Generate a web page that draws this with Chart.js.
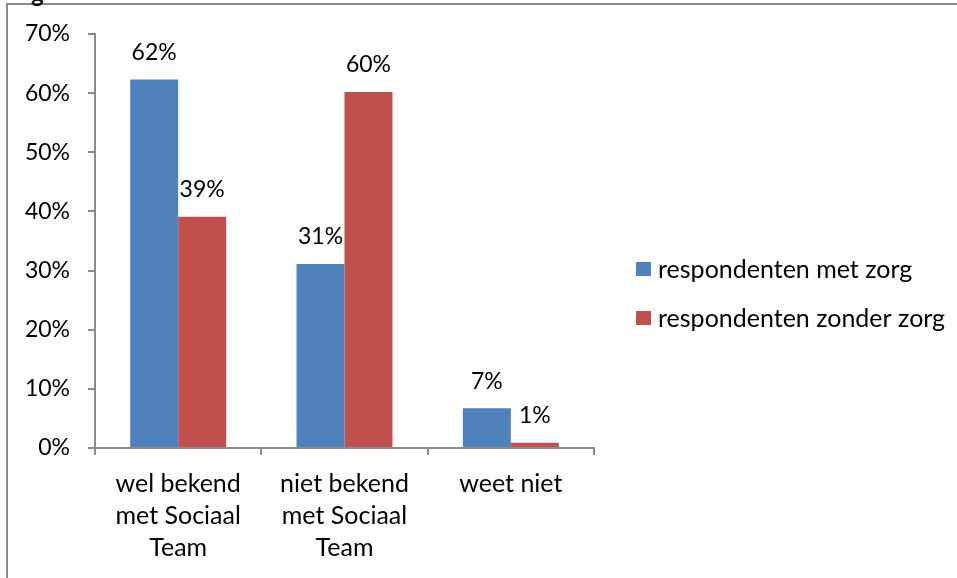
<!DOCTYPE html>
<html>
<head>
<meta charset="utf-8">
<script src="https://cdn.jsdelivr.net/npm/chart.js@4"></script>
<style>
  body { margin: 0; background: #fff; overflow: hidden; }
  #wrap { position: relative; width: 957px; height: 578px; }
  #frame { position: absolute; left: 6px; top: 3px; width: 1000px; height: 1000px;
           border-top: 2px solid #8a8a8a; border-left: 2px solid #8a8a8a; }
  #cut { position: absolute; left: 31px; top: -22px; font: bold 24px Lato, sans-serif; color: #111; }
  canvas { position: absolute; left: 0; top: 0; }
</style>
</head>
<body>
<div id="wrap">
  <div id="frame"></div>
  <div id="cut">g</div>
  <canvas id="barChart" width="957" height="578"></canvas>
</div>
<script>
const categories = [['wel bekend', 'met Sociaal', 'Team'], ['niet bekend', 'met Sociaal', 'Team'], ['weet niet']];
const seriesNames = ['respondenten met zorg', 'respondenten zonder zorg'];
const metZorg = [62.3, 31.1, 6.7];
const zonderZorg = [39.1, 60.2, 0.9];
const seriesColors = ['#4F81BD', '#C0504D'];

const FONT = 'Lato';
const axisColor = '#8a8a8a';

//labels on top of the bars
const barLabels = {
    id: 'barLabels',
    afterDatasetsDraw(chart) {
        const c = chart.ctx;
        c.save();
        c.font = '23px ' + FONT;
        c.fillStyle = '#000';
        c.textAlign = 'center';
        c.textBaseline = 'middle';
        chart.data.datasets.forEach((ds, i) => {
            chart.getDatasetMeta(i).data.forEach((el, j) => {
                c.fillText(Math.round(ds.data[j]) + '%', el.x, el.y - 27);
            });
        });
        c.restore();
    }
};

//legend drawn on the right side
const sideLegend = {
    id: 'sideLegend',
    afterDraw(chart) {
        const c = chart.ctx;
        c.save();
        c.font = '25px ' + FONT;
        c.textBaseline = 'middle';
        chart.data.datasets.forEach((ds, i) => {
            let y = 269 + i * 49;
            c.fillStyle = ds.backgroundColor;
            c.fillRect(636, y - 7, 15, 14);
            c.fillStyle = '#000';
            c.fillText(ds.label, 658, y + 1);
        });
        c.restore();
    }
};

const ctx = document.getElementById('barChart');
let chr = new Chart(ctx, {
    type: 'bar',
    data: {
        labels: categories,
        datasets: [
            { label: seriesNames[0], data: metZorg, backgroundColor: seriesColors[0] },
            { label: seriesNames[1], data: zonderZorg, backgroundColor: seriesColors[1] }
        ]
    },
    options: {
        responsive: false,
        animation: false,
        events: [],
        categoryPercentage: 0.577,
        barPercentage: 1.0,
        layout: { padding: { left: 0, right: 363, top: 34, bottom: 0 } },
        plugins: { legend: { display: false }, tooltip: { enabled: false } },
        scales: {
            x: {
                grid: { display: true, drawOnChartArea: false, offset: true, color: axisColor, lineWidth: 2, tickLength: 7 },
                border: { color: axisColor, width: 2 },
                ticks: { color: '#000', font: { family: FONT, size: 25, lineHeight: 1.28 }, padding: 13, maxRotation: 0 },
                afterFit(scale) { scale.height = 130; }
            },
            y: {
                min: 0,
                max: 70,
                grid: { display: true, drawOnChartArea: false, color: axisColor, lineWidth: 2, tickLength: 7 },
                border: { color: axisColor, width: 2 },
                ticks: { stepSize: 10, color: '#000', font: { family: FONT, size: 23 }, padding: 18,
                         callback: v => v + '%' },
                afterFit(scale) { scale.width = 95; }
            }
        }
    },
    plugins: [barLabels, sideLegend]
});
</script>
</body>
</html>
